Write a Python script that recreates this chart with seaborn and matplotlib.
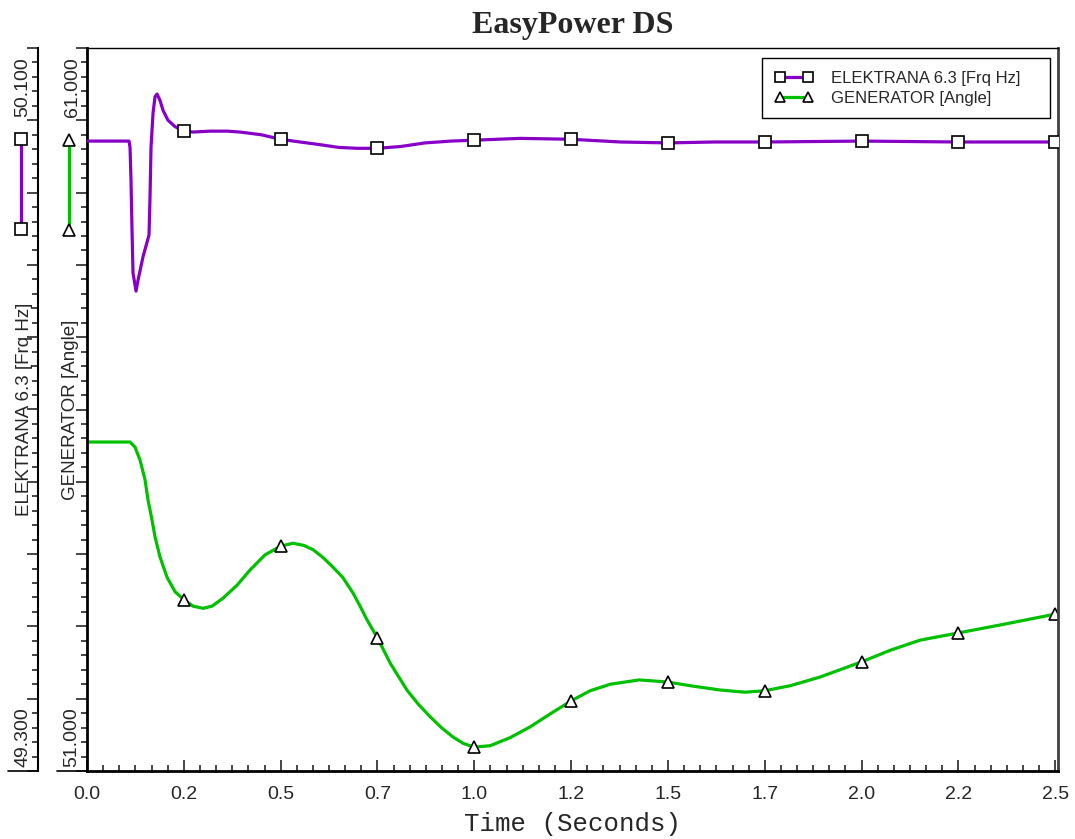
import numpy as np
import pandas as pd
import matplotlib
matplotlib.use('Agg')
import matplotlib.pyplot as plt
from matplotlib.lines import Line2D
from matplotlib.ticker import FixedLocator, NullFormatter, AutoMinorLocator
import seaborn as sns

# ELEKTRANA 6.3 frequency (Hz) vs time (s)
freq_t = [0.0, 0.1085, 0.1111, 0.1136, 0.1162, 0.1188, 0.1266, 0.1317, 0.1446, 0.1601,
          0.1627, 0.1653, 0.1705, 0.1756, 0.1808, 0.1885, 0.1963, 0.2092, 0.2273, 0.25,
          0.2738, 0.3177, 0.3616, 0.3951, 0.45, 0.5, 0.55, 0.602, 0.65, 0.697,
          0.75, 0.81, 0.873, 0.94, 1.0, 1.118, 1.25, 1.377, 1.5, 1.62,
          1.75, 2.0, 2.25, 2.5]
freq_hz = [49.997, 49.997, 49.990, 49.954, 49.899, 49.851, 49.831, 49.843, 49.869, 49.893,
           49.935, 49.990, 50.028, 50.046, 50.049, 50.042, 50.031, 50.020, 50.013, 50.008,
           50.007, 50.008, 50.008, 50.007, 50.004, 49.999, 49.996, 49.993, 49.990, 49.989,
           49.989, 49.991, 49.995, 49.997, 49.998, 50.000, 49.999, 49.996, 49.995, 49.996,
           49.996, 49.997, 49.996, 49.996]

# GENERATOR angle vs time (s)
ang_t = [0.0, 0.1111, 0.1240, 0.1369, 0.1498, 0.1575, 0.1679, 0.1756, 0.1885, 0.2066,
         0.2273, 0.25, 0.2738, 0.2996, 0.3228, 0.3512, 0.3874, 0.4210, 0.4597, 0.5,
         0.532, 0.56, 0.584, 0.61, 0.635, 0.66, 0.687, 0.705, 0.723, 0.75,
         0.783, 0.826, 0.856, 0.886, 0.915, 0.945, 0.972, 1.0, 1.041, 1.092,
         1.144, 1.196, 1.25, 1.299, 1.351, 1.426, 1.5, 1.557, 1.635, 1.699,
         1.75, 1.816, 1.893, 2.0, 2.074, 2.151, 2.25, 2.358, 2.5]
ang_deg = [55.55, 55.55, 55.48, 55.30, 55.03, 54.75, 54.47, 54.24, 53.96, 53.68,
           53.48, 53.37, 53.28, 53.25, 53.28, 53.39, 53.57, 53.78, 53.99, 54.11,
           54.15, 54.12, 54.06, 53.95, 53.82, 53.68, 53.46, 53.28, 53.09, 52.84,
           52.49, 52.12, 51.92, 51.75, 51.60, 51.47, 51.38, 51.33, 51.35, 51.46,
           51.61, 51.79, 51.97, 52.11, 52.20, 52.26, 52.23, 52.18, 52.12, 52.09,
           52.11, 52.18, 52.30, 52.51, 52.67, 52.81, 52.91, 53.02, 53.17]

marker_t = [0.25, 0.5, 0.75, 1.0, 1.25, 1.5, 1.75, 2.0, 2.25, 2.5]
xtick_pos = [0.0, 0.25, 0.5, 0.75, 1.0, 1.25, 1.5, 1.75, 2.0, 2.25, 2.5]
xtick_lbl = ['0.0', '0.2', '0.5', '0.7', '1.0', '1.2', '1.5', '1.7', '2.0', '2.2', '2.5']

freq_name = 'ELEKTRANA 6.3 [Frq Hz]'
ang_name = 'GENERATOR [Angle]'

PURPLE = '#8800C8'
GREEN = '#00C000'

sns.set_style('white')
plt.rcParams['font.family'] = ['Liberation Sans', 'DejaVu Sans']

freq_df = pd.DataFrame({'t': freq_t, 'v': freq_hz})
ang_df = pd.DataFrame({'t': ang_t, 'v': ang_deg})
freq_mk = [i for i, t in enumerate(freq_t) if np.isclose(marker_t, t).any()]
ang_mk = [i for i, t in enumerate(ang_t) if np.isclose(marker_t, t).any()]

fig = plt.figure(figsize=(10.75, 8.39), dpi=100)
ax = fig.add_axes([87/1075, 68/839, 971/1075, 723/839])
ax2 = ax.twinx()

sns.lineplot(data=ang_df, x='t', y='v', ax=ax, color=GREEN, lw=2.3, estimator=None,
             legend=False, marker='^', markevery=ang_mk, ms=8, mfc='white',
             markeredgecolor='black', markeredgewidth=1.2)
sns.lineplot(data=freq_df, x='t', y='v', ax=ax2, color=PURPLE, lw=2.3, estimator=None,
             legend=False, marker='s', markevery=freq_mk, ms=8, mfc='white',
             markeredgecolor='black', markeredgewidth=1.2)
for ln in ax.lines + ax2.lines:
    ln.set_solid_joinstyle('round')

ax.set_xlim(0, 2.507)
ax.set_ylim(51, 61)
ax2.set_ylim(49.3, 50.1)

# x axis
ax.xaxis.set_major_locator(FixedLocator(xtick_pos))
ax.set_xticklabels(xtick_lbl)
ax.xaxis.set_minor_locator(AutoMinorLocator(6))
ax.tick_params(axis='x', which='major', direction='in', length=8, width=1.2,
               labelsize=14, pad=11, top=False, bottom=True)
ax.tick_params(axis='x', which='minor', direction='in', length=4, width=1.2,
               top=False, bottom=True)
ax.set_xlabel('Time (Seconds)', family='Liberation Mono', fontsize=18.5)
ax.xaxis.set_label_coords(0.5, -0.073)
ax.xaxis.label.set_va('center')

# inner y axis (angle)
ax.yaxis.set_major_locator(FixedLocator(np.arange(51, 62, 1)))
ax.yaxis.set_minor_locator(AutoMinorLocator(5))
ax.yaxis.set_major_formatter(NullFormatter())
ax.tick_params(axis='y', which='major', direction='out', length=8, width=1.2, left=True)
ax.tick_params(axis='y', which='minor', direction='out', length=4, width=1.2, left=True)
ax.set_ylabel(ang_name, fontsize=13.5)
ax.yaxis.set_label_coords(-0.0175, 0.5)
ax.yaxis.label.set_va('center')

# outer y axis (frequency)
ax2.spines['left'].set_visible(True)
ax2.spines['left'].set_position(('axes', -49/971))
ax2.spines['right'].set_visible(False)
ax2.spines['top'].set_visible(False)
ax2.spines['bottom'].set_visible(False)
ax2.yaxis.tick_left()
ax2.yaxis.set_major_locator(FixedLocator(np.linspace(49.3, 50.1, 11)))
ax2.yaxis.set_minor_locator(FixedLocator(np.linspace(49.3, 50.1, 51)))
ax2.yaxis.set_major_formatter(NullFormatter())
ax2.tick_params(axis='y', which='major', direction='out', length=8, width=1.2)
ax2.tick_params(axis='y', which='minor', direction='out', length=4, width=1.2)
ax2.set_ylabel(freq_name, fontsize=13.5)
ax2.yaxis.set_label_position('left')
ax2.yaxis.set_label_coords(-0.064, 0.5)
ax2.yaxis.label.set_va('center')

for s in ['left', 'bottom']:
    ax.spines[s].set_linewidth(2)
    ax.spines[s].set_color('black')
ax.spines['top'].set_linewidth(1)
ax.spines['top'].set_color('black')
ax.spines['right'].set_linewidth(2)
ax.spines['right'].set_color('#404040')
ax2.spines['left'].set_linewidth(1.5)
ax2.spines['left'].set_color('black')

# end labels of the two y scales
fig.text(23/1075, 1 - 57/839, '50.100', rotation=90, ha='center', va='top', fontsize=14)
fig.text(23/1075, 1 - 767/839, '49.300', rotation=90, ha='center', va='bottom', fontsize=14)
fig.text(72/1075, 1 - 57/839, '61.000', rotation=90, ha='center', va='top', fontsize=14)
fig.text(72/1075, 1 - 767/839, '51.000', rotation=90, ha='center', va='bottom', fontsize=14)

# small baselines under the scale end labels
fig.add_artist(Line2D([8/1075, 38/1075], [68/839, 68/839], color='black', lw=1.2,
                      transform=fig.transFigure))
fig.add_artist(Line2D([57/1075, 87/1075], [68/839, 68/839], color='black', lw=1.2,
                      transform=fig.transFigure))

# series keys beside the y scales
fig.add_artist(Line2D([21/1075, 21/1075], [1 - 139/839, 1 - 229/839], color=PURPLE, lw=2.3,
                      marker='s', ms=8, mfc='white', mec='black', mew=1.2,
                      transform=fig.transFigure))
fig.add_artist(Line2D([69/1075, 69/1075], [1 - 140/839, 1 - 230/839], color=GREEN, lw=2.3,
                      marker='^', ms=8, mfc='white', mec='black', mew=1.2,
                      transform=fig.transFigure))

handles = [
    Line2D([], [], color=PURPLE, lw=2.3, marker='s', ms=6.5, mfc='white', mec='black', mew=1.2),
    Line2D([], [], color=GREEN, lw=2.3, marker='^', ms=6.5, mfc='white', mec='black', mew=1.2),
]
leg = ax2.legend(handles, [freq_name, ang_name], loc='upper left', mode='expand',
                 bbox_to_anchor=(675/971, 0.75, 288/971, 713/723 - 0.75), borderaxespad=0,
                 numpoints=2, fontsize=12, handlelength=2.3, handletextpad=1.1,
                 labelspacing=0.3, borderpad=0.75, fancybox=False, framealpha=1,
                 edgecolor='black')
leg.get_frame().set_linewidth(1)

ax.set_title('EasyPower DS', family='Liberation Serif', fontweight='bold',
             fontsize=23, pad=11)

fig.savefig('out.png', dpi=100)
